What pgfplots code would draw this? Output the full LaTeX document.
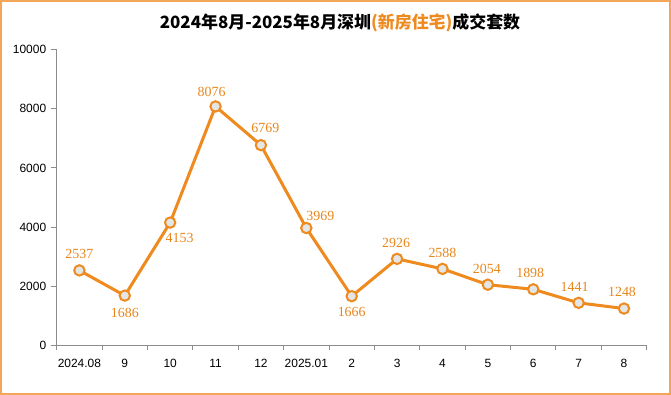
\documentclass[border=0pt]{standalone}
\usepackage{pgfplots}
\pgfplotsset{compat=1.18}
\usepackage{pgfplotstable}
\usepackage{fontspec}
\setmainfont{Liberation Sans}
\newfontfamily\cjk{Noto Sans CJK SC}
\newfontfamily\numfont{Liberation Serif}
\definecolor{org}{HTML}{EE8A1E}
\definecolor{lbl}{HTML}{E8861C}
\definecolor{bordc}{HTML}{F4A658}
\definecolor{axgray}{HTML}{8C8C8C}
\definecolor{mfill}{HTML}{E4E6E6}

\pgfplotstableread{
x y dx dy
0 2537 0 16
1 1686 0 -17
2 4153 9.5 -15
3 8076 -4 15
4 6769 4.5 17
5 3969 14 12
6 1666 0 -16
7 2926 -1 16
8 2588 0 16
9 2054 -1 16
10 1898 -3 16
11 1441 -4 16
12 1248 -2 17
}\datatable

\begin{document}
\begin{tikzpicture}
\useasboundingbox (0,0) rectangle (671bp,395bp);
\draw[color=bordc, line width=1.5bp] (1.2bp,1.2bp) rectangle (669.8bp,393.8bp);
\node[font=\cjk\fontsize{17}{20}\selectfont\bfseries, inner sep=0] at (340bp,372bp)
  {2024年8月-2025年8月深圳\textcolor{org}{(新房住宅)}成交套数};
\begin{axis}[
  at={(56.7bp,49.5bp)}, anchor=south west,
  scale only axis, width=590bp, height=296bp,
  xmin=-0.5, xmax=12.5, ymin=0, ymax=10000,
  axis x line*=bottom, axis y line*=left,
  every outer x axis line/.append style={-},
  every outer y axis line/.append style={-},
  axis line style={draw=axgray, line width=0.9bp},
  tick align=outside,
  xtick={0,...,12},
  xticklabels={2024.08,9,10,11,12,2025.01,2,3,4,5,6,7,8},
  minor xtick={-0.5,0.5,...,12.5},
  major x tick style={draw=none},
  minor tick length=5bp,
  minor tick style={draw=axgray, line width=0.9bp},
  ytick={0,2000,...,10000},
  scaled y ticks=false,
  major tick length=6bp,
  major y tick style={draw=axgray, line width=0.9bp},
  /pgf/number format/assume math mode=true,
  /pgf/number format/1000 sep={},
  ticklabel style={font=\fontsize{12}{14}\selectfont, text=black},
  xticklabel style={yshift=-4bp},
  yticklabel style={xshift=-1bp},
  clip=false,
]
\addplot[color=org, line width=3bp, mark=*, mark size=5.2bp,
  mark options={fill=mfill, draw=org, line width=2bp},
  nodes near coords,
  point meta=explicit,
  visualization depends on={\thisrow{dx}\as\ddx},
  visualization depends on={\thisrow{dy}\as\ddy},
  every node near coord/.append style={anchor=center, inner sep=0,
     xshift=\ddx bp, yshift=\ddy bp, text=lbl,
     font=\numfont\fontsize{14}{16}\selectfont,
     /pgf/number format/assume math mode=true,
     /pgf/number format/1000 sep={}, /pgf/number format/fixed}
] table[x=x, y=y, meta=y] {\datatable};
\end{axis}
\end{tikzpicture}
\end{document}
